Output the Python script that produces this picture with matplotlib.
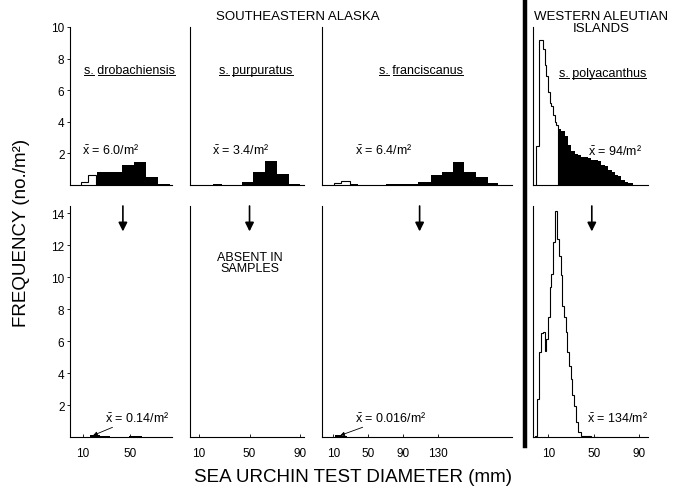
import matplotlib
matplotlib.use("Agg")
import matplotlib.pyplot as plt
from matplotlib.lines import Line2D

plt.rcParams["font.family"] = ["Liberation Sans", "DejaVu Sans"]
plt.rcParams["mathtext.fontset"] = "custom"
plt.rcParams["mathtext.rm"] = "Liberation Sans"
plt.rcParams["mathtext.it"] = "Liberation Sans"

# ---- data (mm bin edges, frequency no./m^2) ----
# S. drobachiensis, adults (top) / recruits (bottom)
drob_open_edges = [8, 14, 21]
drob_open = [0.17, 0.63]
drob_black_edges = [22, 33, 43, 53, 63, 73, 83]
drob_black = [0.8, 0.85, 1.27, 1.48, 0.49, 0.05]
drob_juv_edges = [16, 24, 33, 49, 60]
drob_juv = [0.12, 0.05, 0.0, 0.04]

# S. purpuratus
purp_black_edges = [21, 28, 44, 53, 62, 72, 81, 90]
purp_black = [0.04, 0.01, 0.17, 0.8, 1.54, 0.7, 0.05]

# S. franciscanus
fran_open_edges = [11, 19, 29]
fran_open = [0.13, 0.23]
fran_black_edges = [29, 38, 70, 107, 122, 135, 147, 160, 174, 187, 199]
fran_black = [0.05, 0.02, 0.04, 0.17, 0.63, 0.84, 1.48, 0.8, 0.49, 0.1]
fran_juv_edges = [12, 20, 26]
fran_juv = [0.1, 0.05]

# S. polyacanthus (Western Aleutians)
poly_open_edges = [-0.9, 2.0, 5.3, 6.8, 8.2, 9.7, 11.2, 12.7, 14.2, 15.7, 17.1, 18.6]
poly_open = [2.5, 9.2, 8.6, 7.6, 6.9, 5.9, 5.2, 5.0, 4.4, 4.0, 3.8]
poly_black_edges = [18.6, 21.5, 24.5, 27.4, 30.4, 33.3, 36.3, 39.2, 42.2, 45.1, 48.1,
                    51.0, 54.0, 56.9, 59.9, 62.8, 65.8, 68.7, 71.7, 74.6, 77.6, 80.5, 85.0]
poly_black = [3.55, 3.4, 3.1, 2.55, 2.15, 1.95, 1.9, 1.8, 1.8, 1.7, 1.6,
              1.6, 1.5, 1.27, 1.2, 0.95, 0.85, 0.63, 0.55, 0.32, 0.2, 0.1]
poly_juv_edges = [-1.5, 0.3, 1.5, 3.2, 5.0, 6.8, 8.3, 9.7, 11.2, 12.7, 14.2, 15.6, 18.0,
                  19.5, 20.9, 22.4, 23.9, 25.4, 26.8, 28.3, 29.8, 31.3, 32.8, 34.2,
                  36.3, 39.2, 41.6, 48, 54]
poly_juv = [0.05, 2.4, 5.3, 6.5, 6.55, 5.4, 6.1, 7.5, 9.4, 10.2, 12.2, 14.1, 12.4,
            11.3, 10.1, 8.2, 7.5, 6.55, 5.3, 4.45, 3.6, 2.6, 1.95, 0.93, 0.3, 0.05,
            0.08, 0.03]

species = ["drobachiensis", "purpuratus", "franciscanus", "polyacanthus"]
adult_means = ["6.0", "3.4", "6.4", "94"]
recruit_means = ["0.14", "", "0.016", "134"]
xticks = [[10, 50], [10, 50, 90], [10, 50, 90, 130], [10, 50, 90]]
xlims = [(-1, 85), (3, 93), (-3, 215), (-3.5, 98)]
arrow_x = [43.6, 50, 109, 48.4]

W, H = 681, 489
fig = plt.figure(figsize=(W / 100, H / 100), dpi=100)


def rect(x0, x1, ytop, ybot):
    return [x0 / W, 1 - ybot / H, (x1 - x0) / W, (ybot - ytop) / H]


def mean_label(m):
    return r"$\bar{\mathrm{x}}$ = " + m + "/m\u00b2"


cols_px = [(70, 172), (190, 304), (322, 512), (533, 648)]
lw = 0.8
top_axes, bot_axes = [], []
for i, (x0, x1) in enumerate(cols_px):
    for row, (yt, yb, ymax) in enumerate([(28, 186, 10), (207, 438, 14.44)]):
        ax = fig.add_axes(rect(x0, x1, yt, yb))
        ax.set_xlim(*xlims[i])
        ax.set_ylim(0, ymax)
        for s in ["top", "right"]:
            ax.spines[s].set_visible(False)
        for s in ["left", "bottom"]:
            ax.spines[s].set_linewidth(lw)
        if i == 0:
            ax.set_yticks(range(2, int(ymax) + 1, 2))
            ax.tick_params(axis="y", length=2, width=0.6, labelsize=8.5, pad=2)
        else:
            ax.set_yticks([])
        if row == 1:
            ax.set_xticks(xticks[i])
            ax.tick_params(axis="x", length=2, width=0.6, labelsize=8.5,
                           direction="in", pad=7)
        else:
            ax.set_xticks([])
        (top_axes if row == 0 else bot_axes).append(ax)

# ---- top row histograms ----
a = top_axes
a[0].stairs(drob_open, drob_open_edges, color="black", lw=lw)
a[0].stairs(drob_black, drob_black_edges, fill=True, color="black")
a[1].stairs(purp_black, purp_black_edges, fill=True, color="black")
a[2].stairs(fran_open, fran_open_edges, color="black", lw=lw)
a[2].stairs(fran_black, fran_black_edges, fill=True, color="black")
a[3].stairs(poly_open, poly_open_edges, color="black", lw=lw)
a[3].stairs(poly_black, poly_black_edges, fill=True, color="black")

# ---- bottom row histograms ----
b = bot_axes
b[0].stairs(drob_juv, drob_juv_edges, fill=True, color="black")
b[2].stairs(fran_juv, fran_juv_edges, fill=True, color="black")
b[3].stairs(poly_juv, poly_juv_edges, color="black", lw=lw)

fs = 9
# species labels
sp_pos = [(49.5, 7.1), (55, 7.1), (111, 7.1), (58, 6.9)]
sp_texts = []
for ax, name, (x, y) in zip(a, species, sp_pos):
    t = ax.text(x, y, "s. " + name, ha="center", va="baseline", fontsize=fs)
    sp_texts.append((t, name))

# adult means
am_pos = [(9.2, 2.0), (20.3, 2.0), (35, 2.0), (45, 1.95)]
for ax, m, (x, y) in zip(a, adult_means, am_pos):
    ax.text(x, y, mean_label(m), ha="left", va="baseline", fontsize=fs)

# recruit arrows and means
for ax, x in zip(b, arrow_x):
    ax.annotate("", xy=(x, 12.85), xytext=(x, 14.44),
                arrowprops=dict(arrowstyle="-|>", color="black", lw=1.2,
                                mutation_scale=13, shrinkA=0, shrinkB=0),
                annotation_clip=False)

b[0].annotate(mean_label(recruit_means[0]), xy=(18.5, 0.1), xytext=(28.5, 1.0),
              fontsize=fs, va="baseline", ha="left",
              arrowprops=dict(arrowstyle="-|>", color="black", lw=0.6,
                              mutation_scale=6, shrinkA=1, shrinkB=0))
b[2].annotate(mean_label(recruit_means[2]), xy=(18, 0.1), xytext=(35, 1.0),
              fontsize=fs, va="baseline", ha="left",
              arrowprops=dict(arrowstyle="-|>", color="black", lw=0.6,
                              mutation_scale=6, shrinkA=1, shrinkB=0))
b[3].text(44, 1.0, mean_label(recruit_means[3]), fontsize=fs, va="baseline", ha="left")
b[1].text(50, 10.9, "ABSENT IN\nSAMPLES", ha="center", va="center",
          fontsize=fs, linespacing=0.95)

# headers and axis titles
fig.text(298 / W, 1 - 17 / H, "SOUTHEASTERN ALASKA", ha="center", va="center", fontsize=9.5)
fig.text(601 / W, 1 - 23 / H, "WESTERN ALEUTIAN\nISLANDS", ha="center", va="center",
         fontsize=9.5, linespacing=0.95)
fig.text(22 / W, 1 - 233 / H, "FREQUENCY (no./m\u00b2)", rotation=90, ha="center",
         va="center", fontsize=13.5)
fig.text(353 / W, 1 - 478 / H, "SEA URCHIN TEST DIAMETER (mm)", ha="center",
         va="center", fontsize=13.5)

# thick divider between regions
fig.add_artist(Line2D([525 / W, 525 / W], [1 - 3 / H, 1 - 447 / H], lw=3.2,
                      color="black", transform=fig.transFigure))

# underline genus abbreviation and species name separately
fig.canvas.draw()
r = fig.canvas.get_renderer()
inv = fig.transFigure.inverted()
for t, name in sp_texts:
    bb = t.get_window_extent(r)
    tmp = fig.text(0, 0, name, fontsize=fs)
    w_name = tmp.get_window_extent(r).width
    tmp.set_text("s.")
    w_s = tmp.get_window_extent(r).width
    tmp.remove()
    base_y = t.get_transform().transform(t.get_position())[1] - 2.0
    for x0, x1 in [(bb.x0, bb.x0 + w_s), (bb.x1 - w_name, bb.x1)]:
        p0 = inv.transform((x0, base_y))
        p1 = inv.transform((x1, base_y))
        fig.add_artist(Line2D([p0[0], p1[0]], [p0[1], p1[1]], lw=0.7,
                              color="black", transform=fig.transFigure))

fig.savefig("out.png", dpi=100)
